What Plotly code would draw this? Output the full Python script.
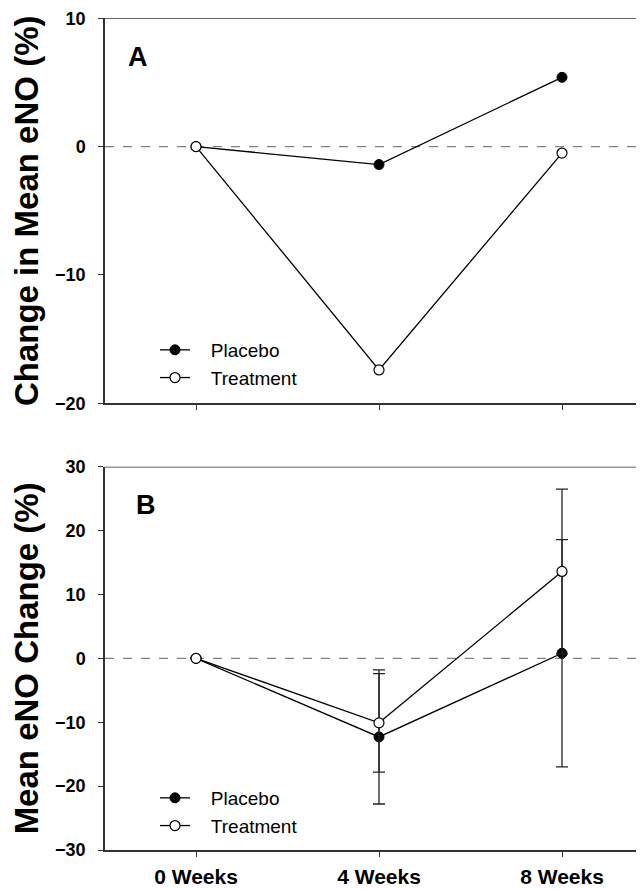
import plotly.graph_objects as go

weeks = ["0 Weeks", "4 Weeks", "8 Weeks"]
x_pos = [0, 1, 2]

# Panel A
a_placebo = [0.0, -1.4, 5.4]
a_treatment = [0.0, -17.4, -0.5]

# Panel B
b_placebo = [0.0, -12.3, 0.8]
b_placebo_err = [0.0, 10.5, 17.8]
b_treatment = [0.0, -10.1, 13.6]
b_treatment_err = [0.0, 7.7, 12.9]

OFF = 8  # page body margin offset
W, H = 644, 889
FONT = "Liberation Sans, Arial, sans-serif"

def py(pix):
    return (H - (pix - OFF)) / H

def px(pix):
    return (pix - OFF) / W

fig = go.Figure()

placebo_marker = dict(symbol="circle", size=10, color="black", line=dict(color="black", width=1))
treat_marker = dict(symbol="circle", size=10, color="white", line=dict(color="black", width=1.2))
line_style = dict(color="black", width=1.3)
NB = "&nbsp;&nbsp;&nbsp;"

fig.add_trace(go.Scatter(x=x_pos, y=a_placebo, mode="lines+markers", name=NB + "Placebo",
                         marker=placebo_marker, line=line_style, xaxis="x", yaxis="y", legend="legend"))
fig.add_trace(go.Scatter(x=x_pos, y=a_treatment, mode="lines+markers", name=NB + "Treatment",
                         marker=treat_marker, line=line_style, xaxis="x", yaxis="y", legend="legend"))

err_style = dict(thickness=1.3, width=6, color="#222222")
fig.add_trace(go.Scatter(x=x_pos, y=b_placebo, mode="lines+markers", name=NB + "Placebo",
                         marker=placebo_marker, line=line_style,
                         error_y=dict(type="data", array=b_placebo_err, visible=True, **err_style),
                         xaxis="x2", yaxis="y2", legend="legend2"))
fig.add_trace(go.Scatter(x=x_pos, y=b_treatment, mode="lines+markers", name=NB + "Treatment",
                         marker=treat_marker, line=line_style,
                         error_y=dict(type="data", array=b_treatment_err, visible=True, **err_style),
                         xaxis="x2", yaxis="y2", legend="legend2"))

# x range: 0 Weeks at page x 196, 183 px per step, spine at 105
xr = [(105 - 196) / 183, (OFF + W - 196) / 183]
axis_common = dict(showgrid=False, zeroline=False, showline=True, linecolor="#333333", linewidth=1.5,
                   ticks="outside", ticklen=5, tickwidth=1.2, tickcolor="#333333", mirror=False,
                   automargin=False)
title_font = dict(size=33, family=FONT, weight="bold", color="black")

fig.update_layout(
    template="none",
    width=W, height=H,
    margin=dict(l=0, r=0, t=0, b=0, pad=0),
    paper_bgcolor="white", plot_bgcolor="white",
    font=dict(family=FONT, color="black"),
    xaxis=dict(domain=[px(105), 1.0], range=xr, tickvals=x_pos, ticktext=["", "", ""],
               anchor="y", **axis_common),
    yaxis=dict(domain=[py(403.3), py(18.3)], range=[-20, 10], tickvals=[-20, -10, 0, 10],
               tickfont=dict(size=18, family=FONT, weight="bold"), anchor="x", ticklabelstandoff=9,
               title=dict(text="Change in Mean eNO (%)", font=title_font, standoff=10), **axis_common),
    xaxis2=dict(domain=[px(105), 1.0], range=xr, tickvals=x_pos, ticktext=weeks,
                tickfont=dict(size=21, family=FONT, weight="bold"), anchor="y2", ticklabelstandoff=2,
                **axis_common),
    yaxis2=dict(domain=[py(850), py(466.7)], range=[-30, 30], tickvals=[-30, -20, -10, 0, 10, 20, 30],
                tickfont=dict(size=18, family=FONT, weight="bold"), anchor="x2", ticklabelstandoff=9,
                title=dict(text="Mean eNO Change (%)", font=title_font, standoff=10), **axis_common),
    legend=dict(x=px(155), y=py(331), xanchor="left", yanchor="top", bgcolor="rgba(0,0,0,0)",
                font=dict(size=19, family=FONT), tracegroupgap=0, itemwidth=30),
    legend2=dict(x=px(155), y=py(779), xanchor="left", yanchor="top", bgcolor="rgba(0,0,0,0)",
                 font=dict(size=19, family=FONT), tracegroupgap=0, itemwidth=30),
    showlegend=True,
)

# Top spines and dashed zero lines
for xa, yref, ytop in (("x", "y", 10), ("x2", "y2", 30)):
    fig.add_shape(type="line", xref=xa, yref=yref, x0=xr[0], x1=xr[1], y0=ytop, y1=ytop,
                  line=dict(color="#333333", width=1.5))
    fig.add_shape(type="line", xref=xa, yref=yref, x0=xr[0], x1=xr[1], y0=0, y1=0,
                  line=dict(color="#808080", width=1.3, dash="dash"), layer="below")

# Panel letters
fig.add_annotation(text="<b>A</b>", xref="paper", yref="paper", x=px(138), y=py(57),
                   xanchor="center", yanchor="middle",
                   showarrow=False, font=dict(size=27, family=FONT))
fig.add_annotation(text="<b>B</b>", xref="paper", yref="paper", x=px(146), y=py(505),
                   xanchor="center", yanchor="middle",
                   showarrow=False, font=dict(size=27, family=FONT))

fig.write_html("out.html")
